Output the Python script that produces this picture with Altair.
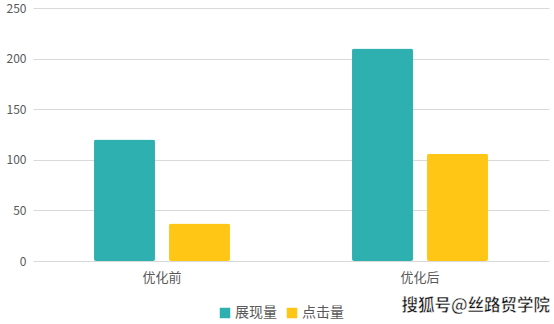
import altair as alt
import pandas as pd

categories = ["优化前", "优化后"]
series = ["展现量", "点击量"]
impressions = [120, 210]
clicks = [37, 106]

rows = []
for c, a, b in zip(categories, impressions, clicks):
    rows.append({"阶段": c, "指标": series[0], "值": a})
    rows.append({"阶段": c, "指标": series[1], "值": b})
df = pd.DataFrame(rows)

font = "Noto Sans CJK SC"

bars = alt.Chart(df).mark_bar(cornerRadius=2).encode(
    x=alt.X("阶段:N", sort=categories, title=None,
            scale=alt.Scale(paddingInner=0.473, paddingOuter=0.2365),
            axis=alt.Axis(labelAngle=0, domain=False, ticks=False, labelPadding=10,
                          labelFontSize=13, labelColor="#595959", labelFont=font)),
    xOffset=alt.XOffset("指标:N", sort=series, scale=alt.Scale(paddingInner=0.187)),
    y=alt.Y("值:Q", title=None,
            scale=alt.Scale(domain=[0, 250]),
            axis=alt.Axis(values=[0, 50, 100, 150, 200, 250], domain=False, ticks=False,
                          labelPadding=7, labelFontSize=12, labelColor="#595959",
                          labelFont=font, gridColor="#d9d9d9", gridWidth=1)),
    color=alt.Color("指标:N", sort=series, title=None,
                    scale=alt.Scale(domain=series, range=["#2EAFB0", "#FFC616"]),
                    legend=alt.Legend(orient="none", legendX=185, legendY=298,
                                      direction="horizontal", symbolType="square",
                                      symbolSize=110, symbolStrokeWidth=0,
                                      labelFontSize=14, labelColor="#595959",
                                      labelFont=font, columnPadding=8, labelOffset=3)),
)

wm = alt.Chart(pd.DataFrame({"t": ["搜狐号@丝路贸学院"]})).mark_text(
    align="right", baseline="middle", fontSize=16.5, fontWeight="bold", font=font,
    color="#111111", stroke="white", strokeWidth=0.5
).encode(text="t:N", x=alt.value(517), y=alt.value(298))

chart = alt.layer(bars, wm).properties(
    width=516, height=253,
    autosize=alt.AutoSizeParams(type="none"),
    padding={"left": 33, "top": 8, "right": 5, "bottom": 63},
).configure_view(stroke=None)

chart.save("out.html", embed_options={"renderer": "svg", "actions": False})
